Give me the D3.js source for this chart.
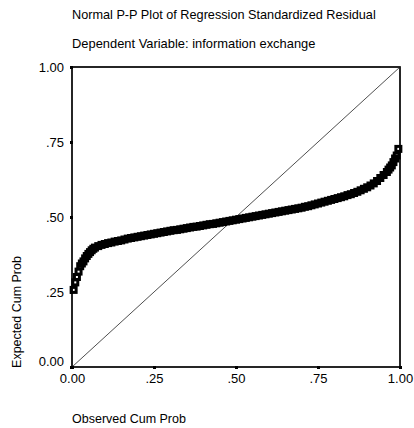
<!DOCTYPE html>
<html><head><meta charset="utf-8">
<script src="https://cdn.jsdelivr.net/npm/d3@7/dist/d3.min.js"></script>
<style>
html,body{margin:0;padding:0;background:#fff;}
svg{display:block;}
text{font-family:"Liberation Sans",Arial,sans-serif;fill:#000;}
</style></head>
<body>
<svg id="c" width="414" height="428"></svg>
<script>
const titleText = "Normal P-P Plot of Regression Standardized Residual";
const subtitleText = "Dependent Variable: information exchange";
const xLabel = "Observed Cum Prob";
const yLabel = "Expected Cum Prob";
const tickValues = [0, 0.25, 0.5, 0.75, 1];
const tickLabels = ["0.00", ".25", ".50", ".75", "1.00"];

const observed = [0.005,0.010,0.015,0.020,0.025,0.030,0.035,0.040,0.045,0.050,0.055,0.060,0.065,0.070,0.080,0.090,
0.100,0.110,0.120,0.130,0.140,0.150,0.160,0.170,0.180,0.190,0.200,0.210,0.220,0.230,0.240,0.250,0.260,0.270,0.280,0.290,
0.300,0.310,0.320,0.330,0.340,0.350,0.360,0.370,0.380,0.390,0.400,0.410,0.420,0.430,0.440,0.450,0.460,0.470,0.480,0.490,
0.500,0.510,0.520,0.530,0.540,0.550,0.560,0.570,0.580,0.590,0.600,0.610,0.620,0.630,0.640,0.650,0.660,0.670,0.680,0.690,
0.700,0.710,0.720,0.730,0.740,0.750,0.760,0.770,0.780,0.790,0.800,0.810,0.820,0.830,0.840,0.850,0.860,0.870,0.880,0.890,
0.900,0.910,0.920,0.930,0.940,0.950,0.960,0.965,0.970,0.975,0.980,0.985,0.990,0.995];
const expected = [0.257,0.282,0.300,0.318,0.336,0.345,0.352,0.362,0.370,0.377,0.383,0.389,0.394,0.398,0.403,0.407,
0.410,0.413,0.415,0.418,0.420,0.422,0.425,0.428,0.430,0.432,0.434,0.436,0.438,0.440,0.442,0.444,0.446,0.448,0.450,0.452,
0.454,0.456,0.457,0.459,0.461,0.463,0.465,0.467,0.468,0.470,0.472,0.474,0.476,0.477,0.479,0.481,0.483,0.485,0.487,0.489,
0.491,0.493,0.495,0.497,0.499,0.501,0.503,0.505,0.507,0.509,0.511,0.513,0.515,0.517,0.519,0.521,0.523,0.525,0.527,0.529,
0.531,0.534,0.536,0.539,0.542,0.545,0.548,0.551,0.554,0.557,0.560,0.563,0.566,0.569,0.573,0.576,0.580,0.584,0.589,0.594,
0.599,0.605,0.612,0.620,0.630,0.640,0.650,0.658,0.665,0.672,0.683,0.695,0.705,0.727];

const svg = d3.select("#c");
const L = 72, R = 400, T = 67, B = 367;
const x = d3.scaleLinear().domain([0,1]).range([L,R]);
const y = d3.scaleLinear().domain([0,1]).range([B,T]);
const FONT = "Liberation Sans, Arial, sans-serif";

svg.append("text").attr("x",72).attr("y",19).attr("font-size",12.7).text(titleText);
svg.append("text").attr("x",72).attr("y",48).attr("font-size",12.9).text(subtitleText);

// frame
svg.append("rect").attr("x",L).attr("y",T).attr("width",R-L).attr("height",B-T)
  .attr("fill","none").attr("stroke","#000").attr("stroke-width",1.7);

// diagonal
svg.append("line").attr("x1",x(0)).attr("y1",y(0)).attr("x2",x(1)).attr("y2",y(1))
  .attr("stroke","#222").attr("stroke-width",0.8);

// axes
const xAxis = d3.axisBottom(x).tickValues(tickValues).tickSize(3).tickPadding(5)
  .tickFormat((d,i)=>tickLabels[i]);
const gx = svg.append("g").attr("transform",`translate(0,${B-1})`).call(xAxis);
gx.select(".domain").remove();
gx.selectAll("line").attr("stroke","#000").attr("stroke-width",3);
gx.selectAll("text").attr("font-size",13).attr("font-family",FONT).attr("fill","#000");

const yAxis = d3.axisLeft(y).tickValues(tickValues).tickSize(3).tickPadding(6)
  .tickFormat((d,i)=>tickLabels[i]);
const gy = svg.append("g").attr("transform",`translate(${L+1},0)`).call(yAxis);
gy.select(".domain").remove();
gy.selectAll("line").attr("stroke","#000").attr("stroke-width",3);
gy.selectAll("text").attr("font-size",13).attr("font-family",FONT).attr("fill","#000");
gy.selectAll(".tick").filter(d=>d===0).select("text").attr("dy","-0.1em");

// points (hollow square markers)
const s = 5;
svg.append("g").selectAll("rect").data(observed).join("rect")
  .attr("x",(d)=>x(d)-s/2).attr("y",(d,i)=>y(expected[i])-s/2)
  .attr("width",s).attr("height",s)
  .attr("fill","none").attr("stroke","#000").attr("stroke-width",3);

svg.append("text").attr("x",72).attr("y",423).attr("font-size",12.5).text(xLabel);
svg.append("text").attr("transform","translate(21,312) rotate(-90)").attr("text-anchor","middle")
  .attr("font-size",12.5).text(yLabel);
</script>
</body></html>
